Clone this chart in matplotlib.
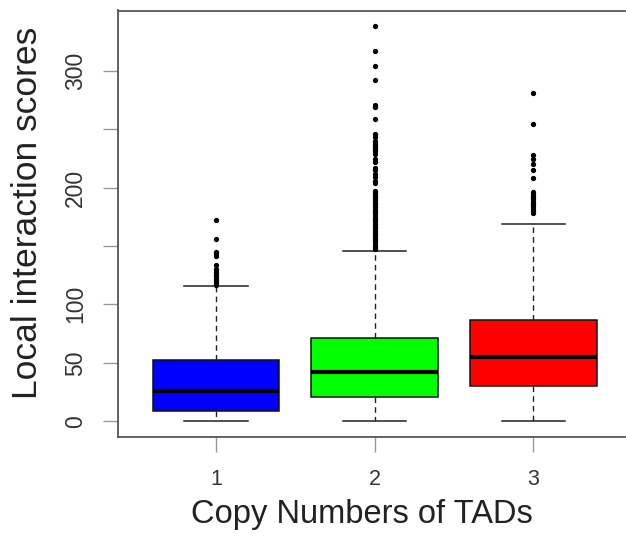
import matplotlib
matplotlib.use("Agg")
import matplotlib.pyplot as plt

plt.rcParams['font.family'] = ['Liberation Sans', 'DejaVu Sans']

# Five-number summaries per copy-number group
groups = ["1", "2", "3"]
medians = [25.5, 42, 55]
q1 = [9, 21, 30.5]
q3 = [52.5, 71, 86.5]
whisker_low = [0, 0, 0]
whisker_high = [115.5, 146, 169]
colors = ["#0000FF", "#00FF00", "#FF0000"]

outliers_1 = [172, 156, 145, 143, 141, 134, 130, 128, 126, 124, 122, 120, 118, 117]
outliers_2 = [338, 317, 304, 292, 271, 269, 259, 246, 243, 235,
              240, 238, 236, 233, 231, 229, 224, 222, 217, 215, 212, 209, 206, 204,
              197, 195, 193, 191, 189, 187, 185, 183, 181, 179, 177, 175, 173, 171,
              169, 167, 165, 163, 161, 159, 157, 155, 153, 151, 149, 147]
outliers_3 = [281, 254, 228, 224, 220, 215, 208, 196, 194, 192, 190, 188, 186,
              184, 182, 180, 178]
outliers = [outliers_1, outliers_2, outliers_3]

y_ticks = [0, 50, 100, 150, 200, 250, 300]
y_tick_labels = ["0", "50", "100", "", "200", "", "300"]

fig = plt.figure(figsize=(6.26, 5.51), dpi=100)
ax = fig.add_axes([117.6 / 626, 114 / 551, 514 / 626, 426.5 / 551])

stats = []
for i in range(len(groups)):
    stats.append(dict(med=medians[i], q1=q1[i], q3=q3[i],
                      whislo=whisker_low[i], whishi=whisker_high[i],
                      fliers=outliers[i], label=groups[i]))

bp = ax.bxp(stats, positions=[1, 2, 3], widths=0.8, patch_artist=True,
            boxprops=dict(edgecolor="#111111", linewidth=1.1),
            medianprops=dict(color="black", linewidth=3.0, solid_capstyle="butt"),
            whiskerprops=dict(color="#222222", linewidth=1.0, linestyle=(0, (4, 3))),
            capprops=dict(color="#222222", linewidth=1.1),
            capwidths=0.4,
            flierprops=dict(marker="o", markerfacecolor="black", markeredgecolor="black",
                            markersize=2.8, linestyle="none"))
for patch, c in zip(bp["boxes"], colors):
    patch.set_facecolor(c)

# R-style 4% axis extension
all_vals = [v for o in outliers for v in o] + whisker_low + whisker_high
lo, hi = min(all_vals), max(all_vals)
pad = 0.04 * (hi - lo)
ax.set_ylim(lo - pad, hi + pad)
ax.set_xlim(0.38, 3.62)

ax.set_yticks(y_ticks)
ax.set_yticklabels(y_tick_labels, rotation=90, va="center")
ax.set_xticks([1, 2, 3])
ax.set_xticklabels(groups)

for s in ax.spines.values():
    s.set_color("#555555")
    s.set_linewidth(1.3)

ax.tick_params(axis="y", length=11, width=1.0, color="#999999", labelsize=16.5,
               labelcolor="#333333", pad=11)
ax.tick_params(axis="x", length=11, width=1.0, color="#999999", labelsize=15.5,
               labelcolor="#333333", pad=12)

ax.set_ylabel("Local interaction scores", fontsize=25.5, color="#222222", va="center")
ax.yaxis.set_label_coords((28 - 117.6) / 514, 224 / 426.5)
ax.set_xlabel("Copy Numbers of TADs", fontsize=23.5, color="#222222", va="baseline")
ax.xaxis.set_label_coords((362 - 117.6) / 514, -86 / 426.5)

fig.savefig("out.png", dpi=100)
